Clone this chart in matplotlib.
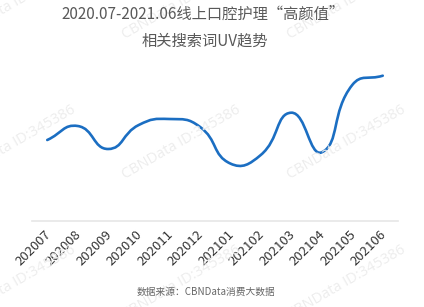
import matplotlib
matplotlib.use("Agg")
import matplotlib.pyplot as plt
import matplotlib.transforms as mtransforms
import numpy as np
from matplotlib.path import Path
from matplotlib.patches import PathPatch

plt.rcParams['font.family'] = ['Noto Sans CJK SC', 'DejaVu Sans']

months = ["202007", "202008", "202009", "202010", "202011", "202012",
          "202101", "202102", "202103", "202104", "202105", "202106"]
uv = [81, 95, 72, 96, 102, 94.3, 57.5, 66, 108.3, 68.7, 136, 145.3]

title_lines = ["2020.07-2021.06线上口腔护理“高颜值”", "相关搜索词UV趋势"]
source_text = "数据来源：CBNData消费大数据"
watermark = "CBNData ID:345386"

W, H = 424, 307
fig = plt.figure(figsize=(W / 100, H / 100), dpi=100)
ax = fig.add_axes([32 / W, (H - 221) / H, 366 / W, 161 / H])
ax.set_xlim(-0.5, len(months) - 0.5)
ax.set_ylim(0, 161)

# watermarks (tiled)
for cy in [2, 142, 282]:
    for cx in [16.5, 181.5, 346.5]:
        fig.text(cx / W, 1 - cy / H, watermark, rotation=30, ha='center', va='center',
                 fontsize=10.5, color='#ededed', family=['Open Sans', 'DejaVu Sans'],
                 zorder=0)

# echarts-like smooth bezier
x = np.arange(len(uv), dtype=float)
y = np.array(uv, dtype=float)
disp = ax.transData.transform(np.column_stack([x, y]))
n = len(disp)
smooth = 0.5
cps0 = []
cps1 = []
for i in range(n):
    p = disp[i]
    prev = disp[i - 1] if i > 0 else p
    nxt = disp[i + 1] if i < n - 1 else p
    v = nxt - prev
    l0 = np.hypot(*(p - prev))
    l1 = np.hypot(*(nxt - p))
    r = l1 / (l0 + l1) if (l0 + l1) > 0 else 0.5
    cps0.append(p - v * smooth * (1 - r))
    cps1.append(p + v * smooth * r)
verts = [disp[0]]
codes = [Path.MOVETO]
for i in range(n - 1):
    verts += [cps1[i], cps0[i + 1], disp[i + 1]]
    codes += [Path.CURVE4] * 3
verts = ax.transData.inverted().transform(np.array(verts))
path = Path(verts, codes)
ax.add_patch(PathPatch(path, fill=False, edgecolor='#1b6ec2', linewidth=1.9,
                       capstyle='round', joinstyle='round', zorder=3))

ax.set_xticks(x)
ax.set_xticklabels(months, rotation=45, ha='right', va='top', rotation_mode='anchor',
                   fontsize=9.5, color='#333333')
ax.tick_params(axis='x', length=0, pad=5)
shift = mtransforms.ScaledTranslation(-3 / 100, 0, fig.dpi_scale_trans)
for lbl in ax.get_xticklabels():
    lbl.set_transform(lbl.get_transform() + shift)
ax.set_yticks([])
for s in ['top', 'right', 'left']:
    ax.spines[s].set_visible(False)
ax.spines['bottom'].set_color('#e6e6e6')
ax.spines['bottom'].set_linewidth(1.2)
ax.patch.set_alpha(0)

fig.text(203 / W, 1 - 14 / H, title_lines[0], ha='center', va='center',
         fontsize=11, color='#595959')
fig.text(205 / W, 1 - 41 / H, title_lines[1], ha='center', va='center',
         fontsize=11, color='#595959')
fig.text(206 / W, 1 - 292 / H, source_text, ha='center', va='center',
         fontsize=7, color='#666666')

fig.savefig('out.png', dpi=100)
